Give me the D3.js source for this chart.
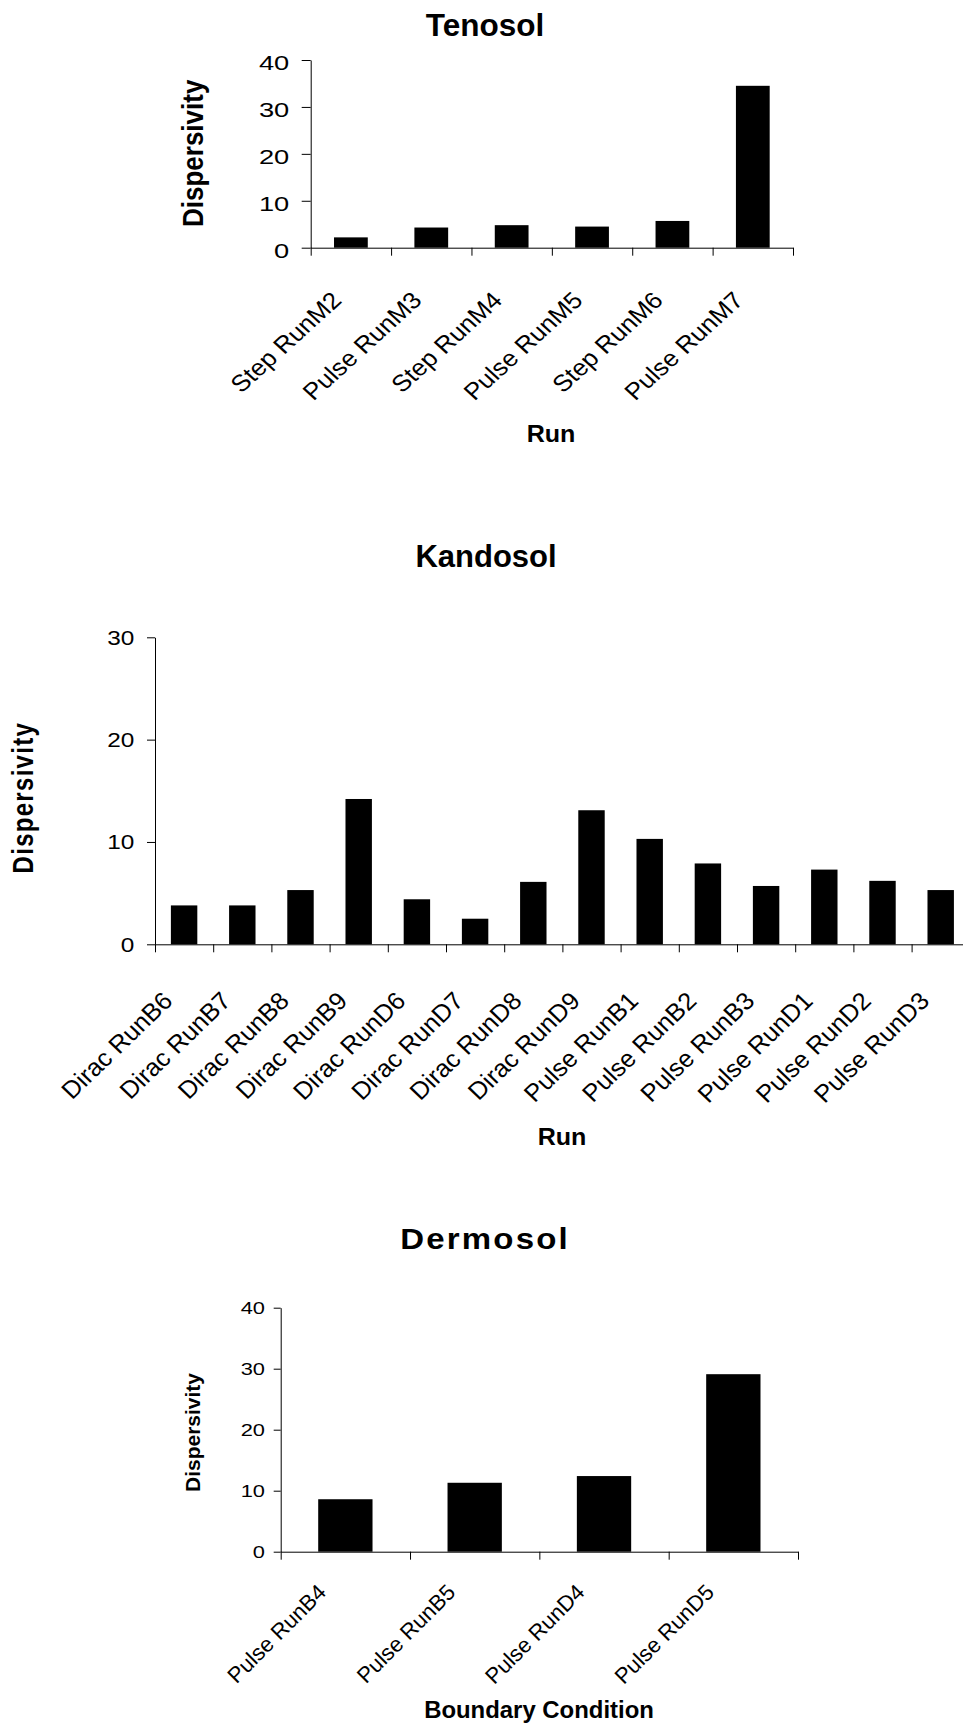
<!DOCTYPE html>
<html>
<head>
<meta charset="utf-8">
<script src="https://cdn.jsdelivr.net/npm/d3@7"></script>
<style>
  body { margin: 0; background: #fff; }
  svg { display: block; }
  text { font-family: "Liberation Sans", Arial, Helvetica, sans-serif; fill: #000; }
</style>
</head>
<body>
<svg id="chart" width="963" height="1724"></svg>
<script>
// ---- Data ----
const tenosolRuns = ["Step RunM2", "Pulse RunM3", "Step RunM4", "Pulse RunM5", "Step RunM6", "Pulse RunM7"];
const tenosolValues = [2.2, 4.3, 4.8, 4.5, 5.7, 34.5];
const tenosolTicks = [0, 10, 20, 30, 40];

const kandosolRuns = ["Dirac RunB6", "Dirac RunB7", "Dirac RunB8", "Dirac RunB9", "Dirac RunD6", "Dirac RunD7",
  "Dirac RunD8", "Dirac RunD9", "Pulse RunB1", "Pulse RunB2", "Pulse RunB3", "Pulse RunD1", "Pulse RunD2", "Pulse RunD3"];
const kandosolValues = [3.8, 3.8, 5.3, 14.2, 4.4, 2.5, 6.1, 13.1, 10.3, 7.9, 5.7, 7.3, 6.2, 5.3];
const kandosolTicks = [0, 10, 20, 30];

const dermosolRuns = ["Pulse RunB4", "Pulse RunB5", "Pulse RunD4", "Pulse RunD5"];
const dermosolValues = [8.6, 11.3, 12.4, 29.1];
const dermosolTicks = [0, 10, 20, 30, 40];

// ---- Panel layout ----
const panels = [
  {
    title: "Tenosol", runs: tenosolRuns, values: tenosolValues, ticks: tenosolTicks, xLabel: "Run",
    left: 310.7, right: 793, top: 60, bottom: 247.7, barRatio: 0.42, yTick: 9,
    titleStyle: { size: 31.5, k: 1, x: 485, y: 36, spacing: 0 },
    tickStyle: { size: 21, k: 1.3, right: 289.3, dy: 9.6 },
    catStyle: { size: 23.5, k: 1.1, dx: -8, dy: 54 },
    yTitleStyle: { size: 26, k: 1.17, x: 203.3, y: 153.3, spacing: 0 },
    xTitleStyle: { size: 23, k: 1.09, x: 551, y: 441.7 }
  },
  {
    title: "Kandosol", runs: kandosolRuns, values: kandosolValues, ticks: kandosolTicks, xLabel: "Run",
    left: 155, right: 969.8, top: 637.3, bottom: 944.3, barRatio: 0.454, yTick: 8,
    titleStyle: { size: 31, k: 1, x: 486, y: 567.3, spacing: 0 },
    tickStyle: { size: 19.5, k: 1.25, right: 134.3, dy: 6.7 },
    catStyle: { size: 24.5, k: 1.04, dx: -10, dy: 58 },
    yTitleStyle: { size: 24, k: 1.25, x: 33.3, y: 797, spacing: 1.3 },
    xTitleStyle: { size: 23, k: 1.09, x: 562, y: 1145 }
  },
  {
    title: "Dermosol", runs: dermosolRuns, values: dermosolValues, ticks: dermosolTicks, xLabel: "Boundary Condition",
    left: 280.7, right: 798, top: 1307.7, bottom: 1551.7, barRatio: 0.42, yTick: 7,
    titleStyle: { size: 30, k: 1.1, x: 484, y: 1249.3, spacing: 2 },
    tickStyle: { size: 16.3, k: 1.34, right: 265, dy: 5.6 },
    catStyle: { size: 22, k: 1.0, dx: -18, dy: 42 },
    yTitleStyle: { size: 21, k: 1.0, x: 200, y: 1432.5, spacing: 0 },
    xTitleStyle: { size: 23, k: 1.04, x: 539, y: 1718.3 }
  }
];

const svg = d3.select("#chart");
svg.append("rect").attr("width", 963).attr("height", 1724).attr("fill", "#fff");

// Text helper: position, optional horizontal stretch and rotation
function addText(g, txt, x, y, o) {
  const sp = o.spacing || 0;
  const k = o.k || 1;
  const shift = (o.anchor === "middle") ? sp / 2 : 0;
  return g.append("text")
    .attr("transform", `translate(${x + (o.rot ? 0 : shift * k)},${y + (o.rot === -90 ? shift : 0)}) scale(${k},1) rotate(${o.rot || 0})`)
    .attr("text-anchor", o.anchor || "start")
    .style("font-size", o.size + "px")
    .style("font-weight", o.bold ? "bold" : "normal")
    .style("letter-spacing", sp ? sp + "px" : null)
    .text(txt);
}

panels.forEach(p => {
  const g = svg.append("g");
  const n = p.runs.length;
  const yMax = d3.max(p.ticks);

  const y = d3.scaleLinear().domain([0, yMax]).range([p.bottom, p.top]);
  const pad = 1 - p.barRatio;
  const x = d3.scaleBand().domain(p.runs).range([p.left, p.right])
    .paddingInner(pad).paddingOuter(pad / 2);
  const edges = d3.scaleLinear().domain([0, n]).range([p.left, p.right]);

  // Bars
  g.selectAll("rect.bar").data(p.runs).join("rect")
    .attr("class", "bar")
    .attr("x", d => x(d))
    .attr("width", x.bandwidth())
    .attr("y", (d, i) => y(p.values[i]))
    .attr("height", (d, i) => y(0) - y(p.values[i]))
    .attr("fill", "#000");

  // Y axis
  const yAxis = g.append("g")
    .attr("transform", `translate(${p.left},0)`)
    .call(d3.axisLeft(y).tickValues(p.ticks).tickSize(p.yTick).tickSizeOuter(0).tickFormat(d3.format("d")));
  yAxis.selectAll("path,line").attr("stroke", "#000").attr("stroke-width", 1);
  yAxis.selectAll("text")
    .attr("x", null).attr("dy", null).attr("fill", "#000")
    .attr("text-anchor", "end")
    .attr("transform", `translate(${p.tickStyle.right - p.left},${p.tickStyle.dy}) scale(${p.tickStyle.k},1)`)
    .style("font-size", p.tickStyle.size + "px")
    .style("font-family", '"Liberation Sans", Arial, sans-serif');

  // X axis with ticks at category boundaries
  const xAxis = g.append("g")
    .attr("transform", `translate(0,${p.bottom})`)
    .call(d3.axisBottom(edges).tickValues(d3.range(n + 1)).tickSize(8).tickSizeOuter(0).tickFormat(""));
  xAxis.selectAll("path,line").attr("stroke", "#000").attr("stroke-width", 1);

  // Category labels, rotated
  p.runs.forEach(r => {
    const cx = x(r) + x.bandwidth() / 2;
    addText(g, r, cx + p.catStyle.dx, p.bottom + p.catStyle.dy,
      { size: p.catStyle.size, k: p.catStyle.k, rot: -45, anchor: "end" });
  });

  // Titles
  addText(g, p.title, p.titleStyle.x, p.titleStyle.y,
    { size: p.titleStyle.size, k: p.titleStyle.k, bold: true, anchor: "middle", spacing: p.titleStyle.spacing });
  addText(g, "Dispersivity", p.yTitleStyle.x, p.yTitleStyle.y,
    { size: p.yTitleStyle.size, k: p.yTitleStyle.k, bold: true, rot: -90, anchor: "middle", spacing: p.yTitleStyle.spacing });
  addText(g, p.xLabel, p.xTitleStyle.x, p.xTitleStyle.y,
    { size: p.xTitleStyle.size, k: p.xTitleStyle.k, bold: true, anchor: "middle" });
});
</script>
</body>
</html>
